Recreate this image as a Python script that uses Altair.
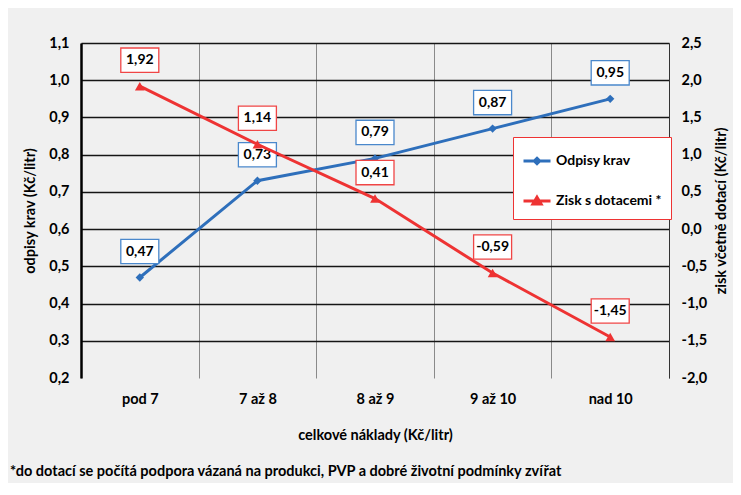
import altair as alt
import pandas as pd

categories = ["pod 7", "7 až 8", "8 až 9", "9 až 10", "nad 10"]
odpisy = [0.47, 0.73, 0.79, 0.87, 0.95]
zisk = [1.92, 1.14, 0.41, -0.59, -1.45]
series_names = ["Odpisy krav", "Zisk s dotacemi *"]
left_ticks = [0.2, 0.3, 0.4, 0.5, 0.6, 0.7, 0.8, 0.9, 1.0, 1.1]
right_ticks = [-2.0, -1.5, -1.0, -0.5, 0.0, 0.5, 1.0, 1.5, 2.0, 2.5]

df_o = pd.DataFrame({"kat": categories, "v": odpisy})
df_z = pd.DataFrame({"kat": categories, "v": zisk})
df_leg = pd.DataFrame({"serie": series_names})

FONT = "Lato"
FS = 14.5
BLUE = "#2e6fbb"
RED = "#ee3333"
BOX_BLUE = "#4a88cc"
BOX_RED = "#f04545"
BOX_PATH = "M-1,-0.64H1V0.64H-1Z"
LEG_DIAMOND = "M-1,0H1M0,-0.2L0.2,0L0,0.2L-0.2,0Z"
LEG_TRI = "M-1,0H1M0,-0.28L0.3,0.22L-0.3,0.22Z"

num_expr = "(datum.value < 0 ? '-' : '') + replace(format(abs(datum.value), '.1f'), '.', ',')"
lab_expr = "(datum.v < 0 ? '-' : '') + replace(format(abs(datum.v), '.2f'), '.', ',')"

x_enc = alt.X(
    "kat:N", sort=categories, bandPosition=0.5,
    scale=alt.Scale(type="band", paddingInner=0, paddingOuter=0),
    axis=alt.Axis(
        title="celkové náklady (Kč/litr)", labelAngle=0, tickBand="extent",
        grid=True, gridColor="#8a8a8a", gridWidth=1, ticks=False, domain=False,
        labelPadding=14, titlePadding=23,
        labelFont=FONT, labelFontSize=FS, labelFontWeight="bold", labelColor="#000",
        titleFont=FONT, titleFontSize=FS, titleFontWeight="bold", titleColor="#000",
    ),
)

y_left = alt.Y(
    "v:Q",
    scale=alt.Scale(domain=[0.2, 1.1], nice=False, zero=False),
    axis=alt.Axis(
        title="odpisy krav (Kč/litr)", values=left_ticks, labelExpr=num_expr,
        grid=True,
        gridColor={"condition": {"test": "datum.value < 0.25", "value": "transparent"}, "value": "#151515"},
        gridWidth=1.6, domainColor="#000", domainWidth=2.5, ticks=False,
        labelPadding=12, titlePadding=11,
        labelFont=FONT, labelFontSize=FS, labelFontWeight="bold", labelColor="#000",
        titleFont=FONT, titleFontSize=FS, titleFontWeight="bold", titleColor="#000",
    ),
)

y_right = alt.Y(
    "v:Q",
    scale=alt.Scale(domain=[-2.0, 2.5], nice=False, zero=False),
    axis=alt.Axis(
        orient="right", title="zisk včetně dotací (Kč/litr)", values=right_ticks,
        labelExpr=num_expr, grid=False, domainColor="#333", domainWidth=1, ticks=False,
        labelPadding=12, titlePadding=22, titleAngle=270,
        labelFont=FONT, labelFontSize=FS, labelFontWeight="bold", labelColor="#000",
        titleFont=FONT, titleFontSize=FS, titleFontWeight="bold", titleColor="#000",
    ),
)


def series_group(df, y_enc, color, box_color, shape, size):
    base = alt.Chart(df).encode(x=x_enc, y=y_enc)
    line = base.mark_line(color=color, strokeWidth=3)
    pts = base.mark_point(shape=shape, filled=True, color=color, size=size, opacity=1)
    box = base.mark_point(shape=BOX_PATH, filled=True, fill="white", stroke=box_color,
                          strokeWidth=1.3, size=1444, opacity=1, yOffset=-26)
    txt = base.transform_calculate(lab=lab_expr).mark_text(
        font=FONT, fontSize=14, fontWeight="bold", color="#000", yOffset=-26, baseline="middle"
    ).encode(text="lab:N")
    return alt.layer(line, pts, box, txt)


left = series_group(df_o, y_left, BLUE, BOX_BLUE, "diamond", 70)
right = series_group(df_z, y_right, RED, BOX_RED, "triangle-up", 95)

leg = alt.Legend(
    title=None, orient="none", legendX=432, legendY=94,
    fillColor="white", strokeColor=RED, padding=9, rowPadding=16,
    symbolSize=729, symbolStrokeWidth=3, labelOffset=4,
    labelFont=FONT, labelFontSize=14, labelFontWeight="bold", labelColor="#000",
)
legend_layer = alt.Chart(df_leg).transform_filter("false").mark_point(filled=True, opacity=1).encode(
    fill=alt.Fill("serie:N", scale=alt.Scale(domain=series_names, range=[BLUE, RED]), legend=leg),
    stroke=alt.Stroke("serie:N", scale=alt.Scale(domain=series_names, range=[BLUE, RED]), legend=leg),
    shape=alt.Shape("serie:N", scale=alt.Scale(domain=series_names, range=[LEG_DIAMOND, LEG_TRI]), legend=leg),
)

chart = alt.layer(left, right, legend_layer).resolve_scale(y="independent").properties(
    width=588, height=335,
    autosize=alt.AutoSizeParams(type="none"),
    padding={"left": 73, "top": 35, "right": 64, "bottom": 105},
    background="#f0f0f0",
    title=alt.TitleParams(
        text="*do dotací se počítá podpora vázaná na produkci, PVP a dobré životní podmínky zvířat",
        orient="bottom", anchor="start", frame="group", dx=-71, offset=23,
        font=FONT, fontSize=FS, fontWeight="bold", color="#000",
    ),
).configure_view(fill="#fbfbfb", stroke=None)

chart.save("out.html", embed_options={"renderer": "svg", "actions": False})
